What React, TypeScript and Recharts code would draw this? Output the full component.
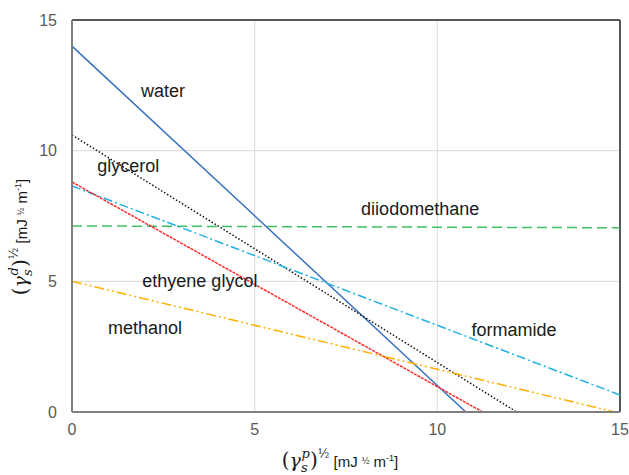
import React from 'react';
import { LineChart, Line, XAxis, YAxis, CartesianGrid, ReferenceLine, ReferenceDot } from 'recharts';

// endpoints of each liquid's line
const water = [{ x: 0, y: 14 }, { x: 10.78, y: 0 }];
const glycerol = [{ x: 0, y: 10.6 }, { x: 12.17, y: 0 }];
const diiodomethane = [{ x: 0, y: 7.12 }, { x: 15, y: 7.05 }];
const formamide = [{ x: 0, y: 8.65 }, { x: 15, y: 0.65 }];
const ethyeneGlycol = [{ x: 0, y: 8.8 }, { x: 11.24, y: 0 }];
const methanol = [{ x: 0, y: 5.0 }, { x: 14.86, y: 0 }];

const ticks = [0, 5, 10, 15];

const labels = [
  { name: 'water', x: 2.49, y: 12.28 },
  { name: 'glycerol', x: 1.54, y: 9.41 },
  { name: 'diiodomethane', x: 9.53, y: 7.76 },
  { name: 'ethyene glycol', x: 3.5, y: 5.03 },
  { name: 'methanol', x: 2.0, y: 3.23 },
  { name: 'formamide', x: 12.1, y: 3.14 },
];

const sans = '"Liberation Sans", Arial, sans-serif';
const serif = '"DejaVu Serif", "Liberation Serif", serif';

const TextMark = (props: any) => (
  <text x={props.cx} y={props.cy} textAnchor="middle" dominantBaseline="central"
    fontFamily={sans} fontSize={18} fill="#1a1a1a">
    {props.name}
  </text>
);

// (γ_s^k)^½ [mJ ½ m⁻¹]
const AxisTitle = ({ sup }: { sup: string }) => (
  <>
    <tspan fontFamily={serif} fontSize={20}>(</tspan>
    <tspan fontFamily={serif} fontSize={19} fontStyle="italic">γ</tspan>
    <tspan fontFamily={serif} fontSize={13} fontStyle="italic" dy={5}>s</tspan>
    <tspan fontFamily={serif} fontSize={13} fontStyle="italic" dx={-6} dy={-14}>{sup}</tspan>
    <tspan fontFamily={serif} fontSize={20} dy={9}>)</tspan>
    <tspan fontFamily={serif} fontSize={12} dy={-9}>½</tspan>
    <tspan fontFamily={sans} fontSize={15} dy={9}> [mJ </tspan>
    <tspan fontFamily={sans} fontSize={9} dy={-3}>½</tspan>
    <tspan fontFamily={sans} fontSize={15} dy={3}> m</tspan>
    <tspan fontFamily={sans} fontSize={9} dy={-6}>-1</tspan>
    <tspan fontFamily={sans} fontSize={15} dy={6}>]</tspan>
  </>
);

const tickStyle = { fontFamily: sans, fontSize: 16, fill: '#595959' };

export default function App() {
  return (
    <div style={{ position: 'absolute', left: 0, top: 0, background: '#fff' }}>
      <LineChart width={629} height={475} margin={{ top: 20, right: 9, bottom: 0, left: 0 }}>
        <CartesianGrid stroke="#d9d9d9" strokeWidth={1} />
        <XAxis type="number" dataKey="x" domain={[0, 15]} ticks={ticks} height={63}
          axisLine={{ stroke: '#7f7f7f', strokeWidth: 2 }} tickLine={false} tickMargin={6}
          tick={tickStyle} allowDataOverflow />
        <YAxis type="number" dataKey="y" domain={[0, 15]} ticks={ticks} width={72}
          axisLine={{ stroke: '#7f7f7f', strokeWidth: 2 }} tickLine={false} tickMargin={9}
          tick={tickStyle} allowDataOverflow />
        <ReferenceLine y={15} stroke="#262626" strokeWidth={1.5} />
        <ReferenceLine x={15} stroke="#262626" strokeWidth={1.5} />
        <Line data={water} dataKey="y" stroke="#3a72c0" strokeWidth={1.5} dot={false} isAnimationActive={false} />
        <Line data={glycerol} dataKey="y" stroke="#111111" strokeWidth={1.5} strokeDasharray="1.5 2" dot={false} isAnimationActive={false} />
        <Line data={diiodomethane} dataKey="y" stroke="#3fbf66" strokeWidth={1.5} strokeDasharray="10 5" dot={false} isAnimationActive={false} />
        <Line data={formamide} dataKey="y" stroke="#1fb0e6" strokeWidth={1.5} strokeDasharray="9 3 2 3" dot={false} isAnimationActive={false} />
        <Line data={ethyeneGlycol} dataKey="y" stroke="#ff2a2a" strokeWidth={1.5} strokeDasharray="3 1" dot={false} isAnimationActive={false} />
        <Line data={methanol} dataKey="y" stroke="#ffb000" strokeWidth={1.5} strokeDasharray="10 3 2 3 2 3" dot={false} isAnimationActive={false} />
        {labels.map((l) => (
          <ReferenceDot key={l.name} x={l.x} y={l.y} r={0}
            shape={(p: any) => <TextMark {...p} name={l.name} />} />
        ))}
      </LineChart>
      <svg width={629} height={475} style={{ position: 'absolute', left: 0, top: 0, pointerEvents: 'none' }}>
        <text x={340} y={467} textAnchor="middle" fill="#1a1a1a">
          <AxisTitle sup="p" />
        </text>
        <text transform="translate(27,237) rotate(-90)" textAnchor="middle" fill="#1a1a1a">
          <AxisTitle sup="d" />
        </text>
      </svg>
    </div>
  );
}
